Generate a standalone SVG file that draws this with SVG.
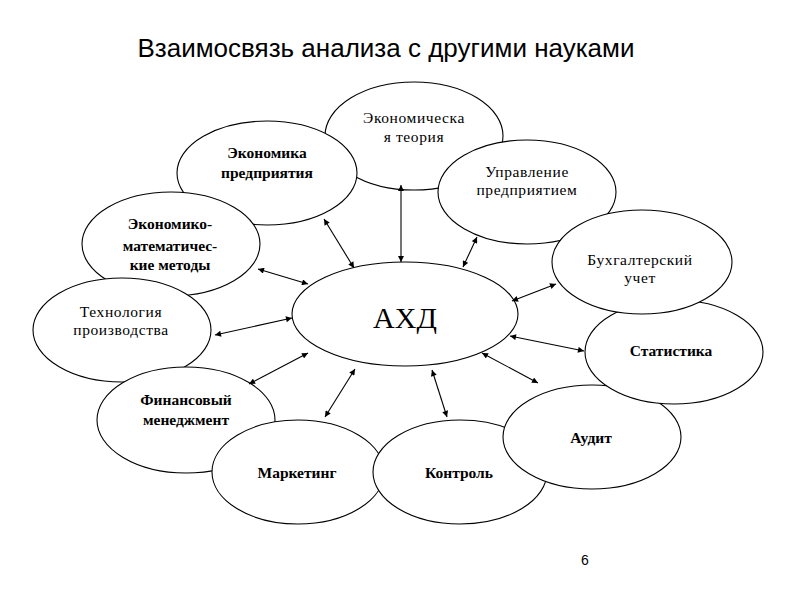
<svg xmlns="http://www.w3.org/2000/svg" width="800" height="600" viewBox="0 0 800 600">
<style>
.n{fill:#fff;stroke:#000;stroke-width:1.1}
.t{font-family:"Liberation Serif","Times New Roman",serif;font-size:15.5px;fill:#000;text-anchor:middle}
.r{letter-spacing:0.6px}
.b{font-weight:bold}
.c line{stroke:#000;stroke-width:1.1;marker-start:url(#ah);marker-end:url(#ah)}
</style>
<defs>
<marker id="ah" viewBox="0 0 10 10" refX="10" refY="5" markerWidth="7" markerHeight="6" markerUnits="userSpaceOnUse" orient="auto-start-reverse">
<path d="M0,0 L10,5 L0,10 z" fill="#000"/>
</marker>
</defs>
<rect width="800" height="600" fill="#fff"/>
<text x="386" y="57" font-family="'Liberation Sans',Arial,sans-serif" font-size="26" text-anchor="middle">Взаимосвязь анализа с другими науками</text>

<g id="n-econ-theory"><ellipse class="n" cx="414" cy="136" rx="89" ry="54"/><text class="t r" x="414" y="123">Экономическа</text><text class="t r" x="414" y="142">я теория</text></g>
<g id="n-econ-ent"><ellipse class="n" cx="267" cy="173" rx="90" ry="52"/><text class="t b" x="267" y="158">Экономика</text><text class="t b" x="267" y="178">предприятия</text></g>
<g id="n-econ-math"><ellipse class="n" cx="171" cy="244" rx="89" ry="52"/><text class="t b" x="170" y="229">Экономико-</text><text class="t b" x="170" y="251">математичес-</text><text class="t b" x="170" y="270">кие методы</text></g>
<g id="n-tech"><ellipse class="n" cx="122" cy="330" rx="89" ry="52"/><text class="t r" x="121" y="317">Технология</text><text class="t r" x="121" y="335">производства</text></g>
<g id="n-fin"><ellipse class="n" cx="186" cy="420" rx="89" ry="53"/><text class="t b" x="186" y="405">Финансовый</text><text class="t b" x="186" y="425">менеджмент</text></g>
<g id="n-mkt"><ellipse class="n" cx="298" cy="472" rx="86" ry="52"/><text class="t b" x="297" y="478">Маркетинг</text></g>
<g id="n-ctrl"><ellipse class="n" cx="460" cy="472" rx="87" ry="52"/><text class="t b" x="459" y="478">Контроль</text></g>
<g id="n-audit"><ellipse class="n" cx="592" cy="437" rx="89" ry="52"/><text class="t b" x="591" y="443">Аудит</text></g>
<g id="n-mgmt"><ellipse class="n" cx="527" cy="192" rx="89" ry="52"/><text class="t r" x="527" y="177">Управление</text><text class="t r" x="527" y="195">предприятием</text></g>
<g id="n-stat"><ellipse class="n" cx="674" cy="352" rx="89" ry="52"/><text class="t b" x="671" y="356">Статистика</text></g>
<g id="n-acc"><ellipse class="n" cx="642" cy="262" rx="90" ry="52"/><text class="t r" x="640" y="265">Бухгалтерский</text><text class="t r" x="640" y="283">учет</text></g>
<g id="n-ahd"><ellipse class="n" cx="405" cy="314" rx="113" ry="52"/><text class="t" x="405" y="328" style="font-size:30px">АХД</text></g>

<g id="connectors" class="c">
<line x1="401" y1="185" x2="401" y2="262"/>
<line x1="324" y1="219" x2="354" y2="268"/>
<line x1="258" y1="269" x2="308" y2="284"/>
<line x1="215" y1="335" x2="292" y2="318"/>
<line x1="249" y1="384" x2="308" y2="353"/>
<line x1="325" y1="417" x2="355" y2="369"/>
<line x1="432" y1="370" x2="447" y2="417"/>
<line x1="482" y1="353" x2="538" y2="383"/>
<line x1="510" y1="336" x2="584" y2="351"/>
<line x1="512" y1="301" x2="556" y2="284"/>
<line x1="463" y1="267" x2="477" y2="237"/>
</g>
<text x="585" y="565" font-family="'Liberation Sans',Arial,sans-serif" font-size="14" text-anchor="middle">6</text>
</svg>
